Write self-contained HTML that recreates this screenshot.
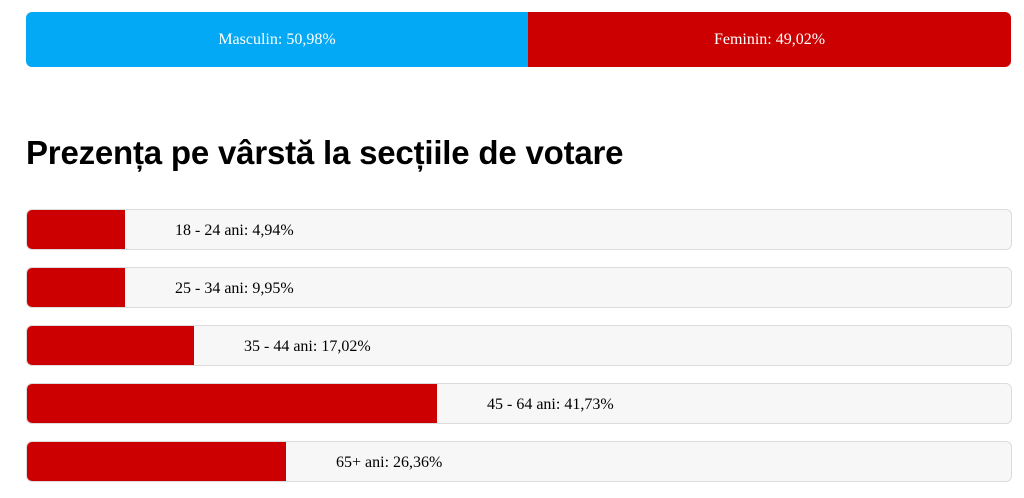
<!DOCTYPE html>
<html><head><meta charset="utf-8"><style>
body{margin:0;width:1024px;height:498px;background:#fff;position:relative;overflow:hidden;font-family:"Liberation Serif",serif}
.top{position:absolute;left:26px;top:12px;width:985px;height:55px;border-radius:6px;overflow:hidden;display:flex}
.top div{height:55px;line-height:55px;text-align:center;color:#fff;font-size:16px}
h1{position:absolute;left:26px;top:134px;margin:0;font:bold 33px "Liberation Sans",sans-serif;color:#000;letter-spacing:-0.2px}
.row{position:absolute;left:26px;width:984px;height:39px;background:#f7f7f7;border:1px solid #dcdcdc;border-radius:6px;overflow:hidden}
.row .f{position:absolute;left:0;top:0;height:100%;background:#cc0000}
.row .t{position:absolute;top:1px;line-height:39px;font-size:16px;color:#000;white-space:nowrap}
</style></head><body>
<div class="top"><div style="width:502px;background:#03a9f4">Masculin: 50,98%</div><div style="flex:1;background:#cc0000">Feminin: 49,02%</div></div>
<h1>Prezența pe vârstă la secțiile de votare</h1>
<div class="row" style="top:209px"><div class="f" style="width:98px"></div><div class="t" style="left:148px">18 - 24 ani: 4,94%</div></div>
<div class="row" style="top:267px"><div class="f" style="width:98px"></div><div class="t" style="left:148px">25 - 34 ani: 9,95%</div></div>
<div class="row" style="top:325px"><div class="f" style="width:167px"></div><div class="t" style="left:217px">35 - 44 ani: 17,02%</div></div>
<div class="row" style="top:383px"><div class="f" style="width:410px"></div><div class="t" style="left:460px">45 - 64 ani: 41,73%</div></div>
<div class="row" style="top:441px"><div class="f" style="width:259px"></div><div class="t" style="left:309px">65+ ani: 26,36%</div></div>
</body></html>
